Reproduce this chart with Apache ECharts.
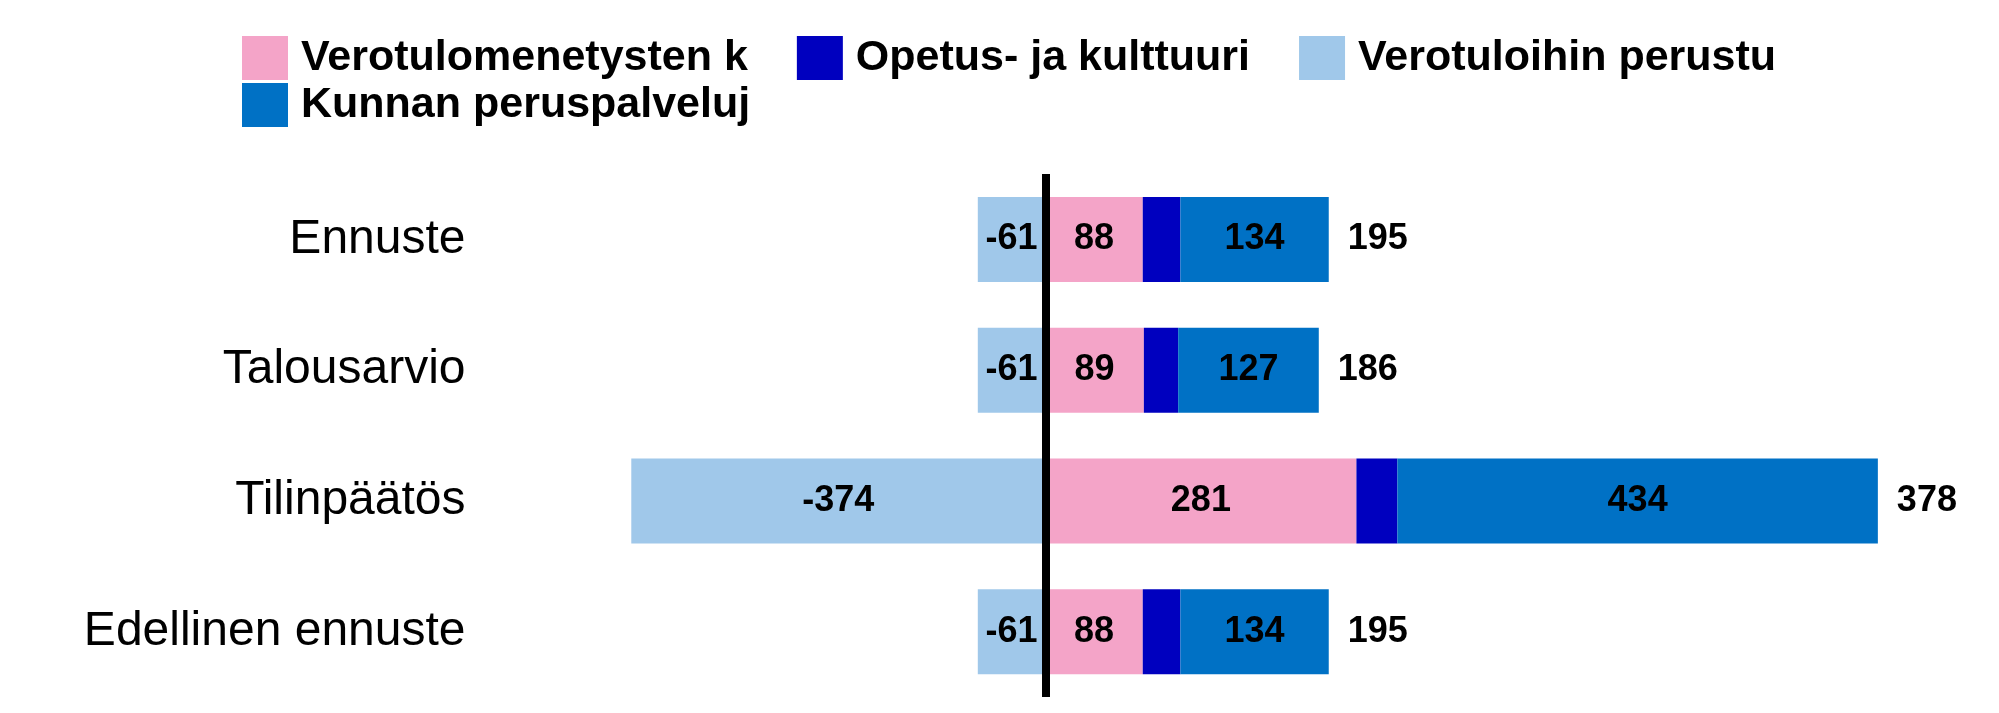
<!DOCTYPE html>
<html>
<head>
<meta charset="utf-8">
<script src="https://cdn.jsdelivr.net/npm/echarts@6/dist/echarts.min.js"></script>
<style>
html,body{margin:0;padding:0;background:#fff;}
#main{width:1999px;height:713px;}
</style>
</head>
<body>
<div id="main"></div>
<script>
var categories = ['Ennuste', 'Talousarvio', 'Tilinpäätös', 'Edellinen ennuste'];
var seriesNames = ['Verotulomenetysten k', 'Opetus- ja kulttuuri', 'Verotuloihin perustu', 'Kunnan peruspalveluj'];
var verotulomenetykset = [88, 89, 281, 88];
var opetusJaKulttuuri = [34, 31, 37, 34];
var verotuloihinPerustuvat = [-61, -61, -374, -61];
var peruspalvelut = [134, 127, 434, 134];
var totals = [195, 186, 378, 195];

var FONT = "'Liberation Sans', Arial, Helvetica, sans-serif";
var colors = ['#F4A4C8', '#0000BF', '#A0C8EA', '#0071C5'];

var valueLabel = {
  show: true,
  position: 'inside',
  color: '#000',
  fontSize: 36,
  fontWeight: 'bold',
  fontFamily: FONT
};

var chart = echarts.init(document.getElementById('main'), null, {renderer: 'canvas'});
var legendCommon = {
  left: 242,
  orient: 'horizontal',
  padding: 0,
  itemWidth: 46,
  itemHeight: 44,
  itemGap: 49,
  icon: 'rect',
  textStyle: {fontSize: 43, fontWeight: 'bold', color: '#000', fontFamily: FONT, padding: [0, 0, 0, 8]}
};
var option = {
  animation: false,
  backgroundColor: '#fff',
  color: colors,
  legend: [
    Object.assign({}, legendCommon, {top: 36, data: seriesNames.slice(0, 3)}),
    Object.assign({}, legendCommon, {top: 83, data: [seriesNames[3]]})
  ],
  grid: {left: 602.5, right: 68, top: 174, bottom: 16, containLabel: false, outerBoundsMode: 'none'},
  xAxis: {type: 'value', min: -400, max: 800, interval: 400, show: false},
  yAxis: {
    type: 'category',
    data: categories,
    inverse: true,
    axisLine: {show: false},
    axisTick: {show: false},
    splitLine: {show: false},
    axisLabel: {fontSize: 48, color: '#000', fontFamily: FONT, margin: 137}
  },
  series: [
    {name: seriesNames[0], type: 'bar', stack: 'a', barWidth: 85, data: verotulomenetykset, label: valueLabel, itemStyle: {color: colors[0]}},
    {name: seriesNames[1], type: 'bar', stack: 'a', barWidth: 85, data: opetusJaKulttuuri, label: {show: false}, itemStyle: {color: colors[1]}},
    {name: seriesNames[2], type: 'bar', stack: 'a', barWidth: 85, data: verotuloihinPerustuvat, label: valueLabel, itemStyle: {color: colors[2]}},
    {name: seriesNames[3], type: 'bar', stack: 'a', barWidth: 85, data: peruspalvelut, label: valueLabel, itemStyle: {color: colors[3]}},
    {
      name: 'Yhteensä', type: 'bar', stack: 'a', barWidth: 85, z: 5,
      data: totals.map(function () { return 0; }),
      itemStyle: {color: 'rgba(0,0,0,0)'},
      label: {
        show: true, position: 'right', distance: 19,
        color: '#000', fontSize: 36, fontWeight: 'bold', fontFamily: FONT,
        formatter: function (p) { return totals[p.dataIndex]; }
      },
      markLine: {
        silent: true,
        symbol: 'none',
        label: {show: false},
        lineStyle: {color: '#000', width: 8, type: 'solid'},
        data: [{xAxis: 0}]
      }
    }
  ]
};
chart.setOption(option);
</script>
</body>
</html>
